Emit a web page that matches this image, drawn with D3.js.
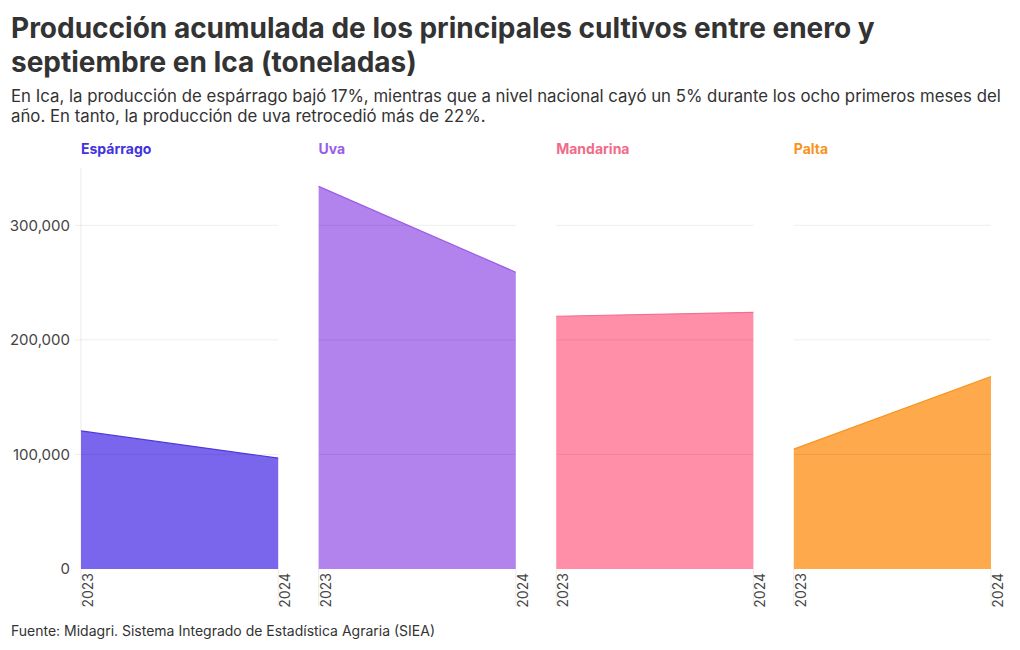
<!DOCTYPE html>
<html>
<head>
<meta charset="utf-8">
<script src="https://cdn.jsdelivr.net/npm/d3@7"></script>
<style>
  body { margin: 0; background: #fff; font-family: "Inter", "Noto Sans", sans-serif; }
  .title { font-size: 28px; font-weight: 700; fill: #333; }
  .sub { font-size: 16.8px; fill: #333; }
  .foot { font-size: 14px; fill: #333; }
</style>
</head>
<body>
<svg width="1020" height="650"></svg>
<script>
var cultivos = ["Espárrago", "Uva", "Mandarina", "Palta"];
var years = ["2023", "2024"];
var produccion = [
  [120500, 96800],
  [334000, 259000],
  [220600, 224000],
  [104600, 168000]
];
var fillColors = ["#7a66ed", "#b283ec", "#ff8fa8", "#ffa94d"];
var lineColors = ["#4f3ad9", "#9a5ee6", "#f0708f", "#f7931e"];
var titleColors = ["#4433dd", "#9b5de5", "#f06b8a", "#f7931e"];
var yTicks = [0, 100000, 200000, 300000];

var svg = d3.select("svg");

svg.append("text").attr("class", "title").attr("x", 11).attr("y", 38)
  .text("Producción acumulada de los principales cultivos entre enero y");
svg.append("text").attr("class", "title").attr("x", 11).attr("y", 72)
  .text("septiembre en Ica (toneladas)");
svg.append("text").attr("class", "sub").attr("x", 11).attr("y", 102)
  .text("En Ica, la producción de espárrago bajó 17%, mientras que a nivel nacional cayó un 5% durante los ocho primeros meses del");
svg.append("text").attr("class", "sub").attr("x", 11).attr("y", 122)
  .text("año. En tanto, la producción de uva retrocedió más de 22%.");
svg.append("text").attr("class", "foot").attr("x", 11).attr("y", 636)
  .text("Fuente: Midagri. Sistema Integrado de Estadística Agraria (SIEA)");

var plotTop = 168, plotBottom = 569;
var y = d3.scaleLinear().domain([0, 350000]).range([plotBottom, plotTop]);

var panel = d3.scaleBand().domain(cultivos).range([81, 991]).paddingInner(0.17).paddingOuter(0);

// y axis labels
svg.append("g").selectAll("text").data(yTicks).join("text")
  .attr("x", 70).attr("y", function (d) { return y(d); }).attr("dy", "0.35em")
  .attr("text-anchor", "end")
  .style("font-size", "15px").style("fill", "#444")
  .text(function (d) { return d3.format(",")(d); });

// y axis line
svg.append("line")
  .attr("x1", 81).attr("x2", 81).attr("y1", plotTop).attr("y2", plotBottom)
  .attr("stroke", "#ebebeb");

cultivos.forEach(function (c, i) {
  var x0 = panel(c);
  var w = panel.bandwidth();
  var x = d3.scalePoint().domain(years).range([x0, x0 + w]);
  var g = svg.append("g");

  var data = years.map(function (yr, j) { return { year: yr, v: produccion[i][j] }; });

  g.append("path").datum(data)
    .attr("d", d3.area().x(function (d) { return x(d.year); }).y0(y(0)).y1(function (d) { return y(d.v); }))
    .attr("fill", fillColors[i]);

  // horizontal grid
  g.selectAll("line.h").data(yTicks.slice(1)).join("line")
    .attr("x1", i === 0 ? 75 : x0).attr("x2", x0 + w)
    .attr("y1", function (d) { return y(d); }).attr("y2", function (d) { return y(d); })
    .attr("stroke", "#000").attr("stroke-opacity", 0.07).attr("stroke-width", 1);

  g.append("path").datum(data)
    .attr("d", d3.line().x(function (d) { return x(d.year); }).y(function (d) { return y(d.v); }))
    .attr("fill", "none").attr("stroke", lineColors[i]).attr("stroke-width", 1.2);

  // x tick lines below baseline
  g.selectAll("line.v").data(years).join("line")
    .attr("x1", function (d) { return x(d); }).attr("x2", function (d) { return x(d); })
    .attr("y1", plotBottom).attr("y2", 606)
    .attr("stroke", "#ebebeb").attr("stroke-width", 1);

  // year labels rotated
  g.selectAll("text.yr").data(years).join("text")
    .attr("transform", function (d) { return "translate(" + (x(d) + 12) + ",573) rotate(-90)"; })
    .attr("text-anchor", "end")
    .style("font-size", "14px").style("fill", "#444")
    .text(function (d) { return d; });

  // facet title
  g.append("text").attr("x", x0).attr("y", 154)
    .style("font-size", "14px").style("font-weight", "700").style("fill", titleColors[i])
    .text(c);
});
</script>
</body>
</html>
